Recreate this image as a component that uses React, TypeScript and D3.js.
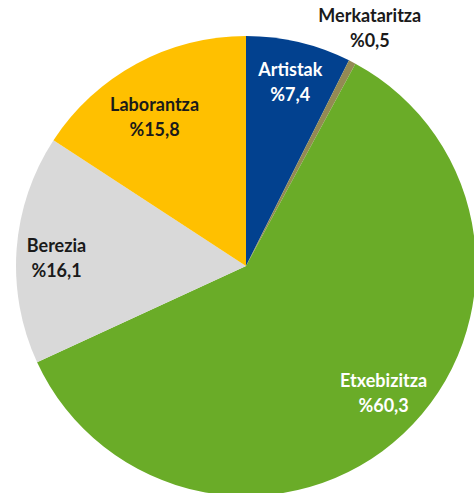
import React from 'react';
import * as d3 from 'd3';

const categories = ['Artistak', 'Merkataritza', 'Etxebizitza', 'Berezia', 'Laborantza'];
const values = [7.4, 0.5, 60.3, 16.1, 15.8];
const labels = ['%7,4', '%0,5', '%60,3', '%16,1', '%15,8'];

// styling per slice
const colors = ['#02418F', '#948A54', '#6AAC28', '#D9D9D9', '#FFC000'];
const textColors = ['#ffffff', '#1a1a1a', '#ffffff', '#1a1a1a', '#1a1a1a'];
const outside = [false, true, false, false, false];
// small label nudges, like Excel's best-fit placement
const nudges = [
  [1, -1],
  [0, 0],
  [9, -10],
  [-2, 6],
  [-2, 17],
];

const W = 474;
const H = 493;

export default function App() {
  const cx = 246;
  const cy = 266;
  const radius = 230;

  const pie = d3
    .pie<number>()
    .sort(null)
    .value((d) => d);
  const arcs = pie(values);

  const arc = d3.arc<d3.PieArcDatum<number>>().innerRadius(0).outerRadius(radius);
  const inLabel = d3.arc<d3.PieArcDatum<number>>().innerRadius(188).outerRadius(188);
  const outLabel = d3.arc<d3.PieArcDatum<number>>().innerRadius(268).outerRadius(268);

  return (
    <svg
      width={W}
      height={H}
      style={{ position: 'absolute', left: 0, top: 0, background: '#fff' }}
      fontFamily="Lato, 'Open Sans', sans-serif"
    >
      <g transform={`translate(${cx},${cy})`}>
        {arcs.map((a, i) => (
          <path key={categories[i]} d={arc(a) || ''} fill={colors[i]} />
        ))}
        {arcs.map((a, i) => {
          const c = (outside[i] ? outLabel : inLabel).centroid(a);
          const x = c[0] + nudges[i][0];
          const y = c[1] + nudges[i][1];
          return (
            <text
              key={'t' + i}
              x={x}
              y={y}
              textAnchor="middle"
              fontSize={18}
              fontWeight="bold"
              fill={textColors[i]}
            >
              <tspan x={x} dy={-6.5}>{categories[i]}</tspan>
              <tspan x={x} dy={25}>{labels[i]}</tspan>
            </text>
          );
        })}
      </g>
    </svg>
  );
}
